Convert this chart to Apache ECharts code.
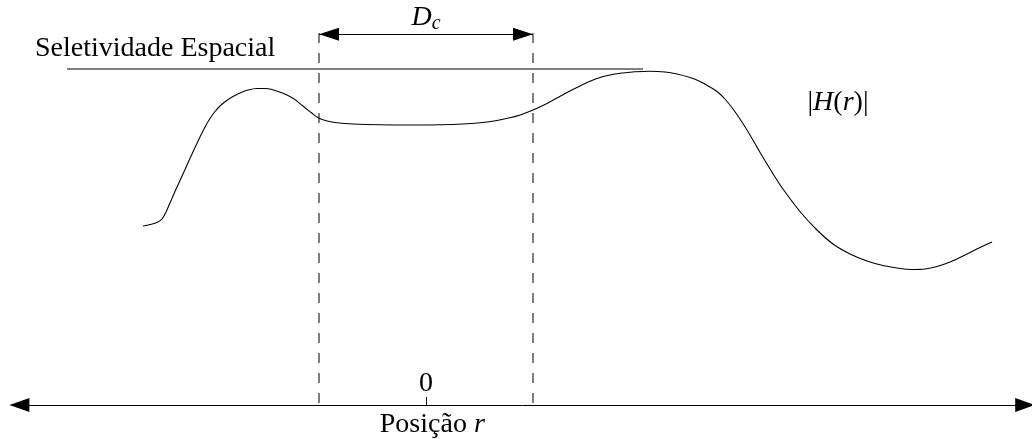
<!DOCTYPE html>
<html>
<head>
<meta charset="utf-8">
<script src="https://cdn.jsdelivr.net/npm/echarts@6/dist/echarts.min.js"></script>
<style>
	html, body { margin: 0; padding: 0; background: #fff; }
	#chart { width: 1032px; height: 439px; }
</style>
</head>
<body>
<div id="chart"></div>
<script>
// posição r (unidades: D_c = 2) e |H(r)|
const posR = [
	-2.645, -2.579, -2.514, -2.467, -2.43, -2.393, -2.346, -2.299, -2.252, -2.206,
	-2.159, -2.112, -2.065, -2.019, -1.972, -1.925, -1.869, -1.804, -1.738, -1.664,
	-1.579, -1.505, -1.439, -1.336, -1.243, -1.15, -1.068, -1.0, -0.925, -0.832,
	-0.682, -0.43, -0.121, 0.131, 0.346, 0.505, 0.664, 0.785, 0.879, 1.0,
	1.112, 1.224, 1.327, 1.439, 1.533, 1.626, 1.72, 1.813, 1.953, 2.093,
	2.234, 2.346, 2.467, 2.561, 2.654, 2.72, 2.794, 2.869, 2.953, 3.028,
	3.103, 3.187, 3.262, 3.336, 3.495, 3.654, 3.804, 3.963, 4.121, 4.271,
	4.43, 4.542, 4.664, 4.776, 4.897, 5.056, 5.178, 5.29,
]
const magH = [
	0.537, 0.5415, 0.5475, 0.558, 0.579, 0.606, 0.6405, 0.6735, 0.7065, 0.7395,
	0.7725, 0.804, 0.834, 0.8595, 0.8805, 0.897, 0.912, 0.9255, 0.936, 0.945,
	0.9495, 0.9495, 0.9465, 0.935, 0.92, 0.897, 0.876, 0.86, 0.852, 0.8466,
	0.843, 0.8406, 0.84, 0.8406, 0.843, 0.8469, 0.8535, 0.8616, 0.87, 0.885,
	0.9015, 0.921, 0.939, 0.957, 0.9711, 0.9825, 0.99, 0.9951, 0.9996, 1.0014,
	0.999, 0.993, 0.9825, 0.9705, 0.954, 0.9405, 0.918, 0.888, 0.849, 0.81,
	0.768, 0.723, 0.684, 0.648, 0.5805, 0.525, 0.483, 0.453, 0.432, 0.4185,
	0.4095, 0.4065, 0.408, 0.4155, 0.429, 0.453, 0.4725, 0.489,
]
const dcBounds = [-1, 1]
const dcLevel = 1.112
const dcTop = 1.116
const selBounds = [-3.355, 2.028]
const selLevel = 1.008
const tickValues = [0]
const tickLabels = ['0']

const font = '"Liberation Serif", "DejaVu Serif", serif'
const chart = echarts.init(document.getElementById('chart'))

const curve = posR.map((r, i) => [r, magH[i]])
const dashed = function(r) {
	return {
		type: 'line',
		data: [[r, dcTop], [r, 0]],
		symbol: 'none',
		silent: true,
		lineStyle: { color: '#000', width: 1, type: [10, 10] },
	}
}

const options = {
	animation: false,
	grid: { left: 19.4, right: 6.8, top: 5, bottom: 34, outerBoundsMode: 'none' },
	xAxis: {
		type: 'value',
		min: -3.8,
		max: 5.6,
		name: '{a|Posição} {b|r}',
		nameLocation: 'middle',
		nameGap: 0,
		nameTextStyle: {
			fontFamily: font,
			fontSize: 28,
			color: '#000',
			verticalAlign: 'top',
			padding: [0, 180, 0, 0],
			rich: {
				a: { fontFamily: font, fontSize: 28, color: '#000' },
				b: { fontFamily: font, fontSize: 28, color: '#000', fontStyle: 'italic' },
			},
		},
		axisLine: {
			show: true,
			onZero: false,
			symbol: ['triangle', 'triangle'],
			symbolSize: [14, 20],
			lineStyle: { color: '#000', width: 1 },
		},
		axisTick: {
			show: true,
			inside: true,
			length: 8,
			customValues: tickValues,
			lineStyle: { color: '#000', width: 1 },
		},
		axisLabel: {
			inside: true,
			margin: 7,
			customValues: tickValues,
			formatter: v => tickLabels[tickValues.indexOf(v)],
			fontFamily: font,
			fontSize: 28,
			color: '#000',
		},
		splitLine: { show: false },
	},
	yAxis: {
		type: 'value',
		min: 0,
		max: 1.2,
		show: false,
	},
	graphic: [
		{
			type: 'text',
			style: { x: 35, y: 49, text: 'Seletividade Espacial', font: '28px ' + font, fill: '#000', verticalAlign: 'middle' },
		},
		{
			type: 'text',
			style: {
				x: 838, y: 103, align: 'center', verticalAlign: 'middle',
				text: '{n||}{i|H}{n|(}{i|r}{n|)|}',
				rich: {
					n: { fontFamily: font, fontSize: 28, fill: '#000' },
					i: { fontFamily: font, fontSize: 28, fill: '#000', fontStyle: 'italic' },
				},
			},
		},
	],
	series: [
		{
			name: '|H(r)|',
			type: 'line',
			data: curve,
			symbol: 'none',
			smooth: 0.3,
			silent: true,
			lineStyle: { color: '#000', width: 1.1 },
		},
		{
			type: 'line',
			data: [[selBounds[0], selLevel], [selBounds[1], selLevel]],
			symbol: 'none',
			silent: true,
			lineStyle: { color: '#000', width: 1 },
		},
		dashed(dcBounds[0]),
		Object.assign(dashed(dcBounds[1]), {
			markLine: {
				silent: true,
				symbol: ['triangle', 'triangle'],
				symbolSize: [13, 20],
				symbolOffset: [[0, 10], [0, 10]],
				lineStyle: { color: '#000', width: 1, type: 'solid' },
				label: {
					show: true,
					position: 'insideMiddleTop',
					distance: 1,
					formatter: '{d|D}{c|c}',
					rich: {
						d: { fontFamily: font, fontSize: 28, color: '#000', fontStyle: 'italic' },
						c: { fontFamily: font, fontSize: 20, color: '#000', fontStyle: 'italic', padding: [12, 0, 0, 0] },
					},
				},
				emphasis: { disabled: true },
				data: [[{ coord: [dcBounds[0], dcLevel] }, { coord: [dcBounds[1], dcLevel] }]],
			},
		}),
	],
}
chart.setOption(options)
</script>
</body>
</html>
